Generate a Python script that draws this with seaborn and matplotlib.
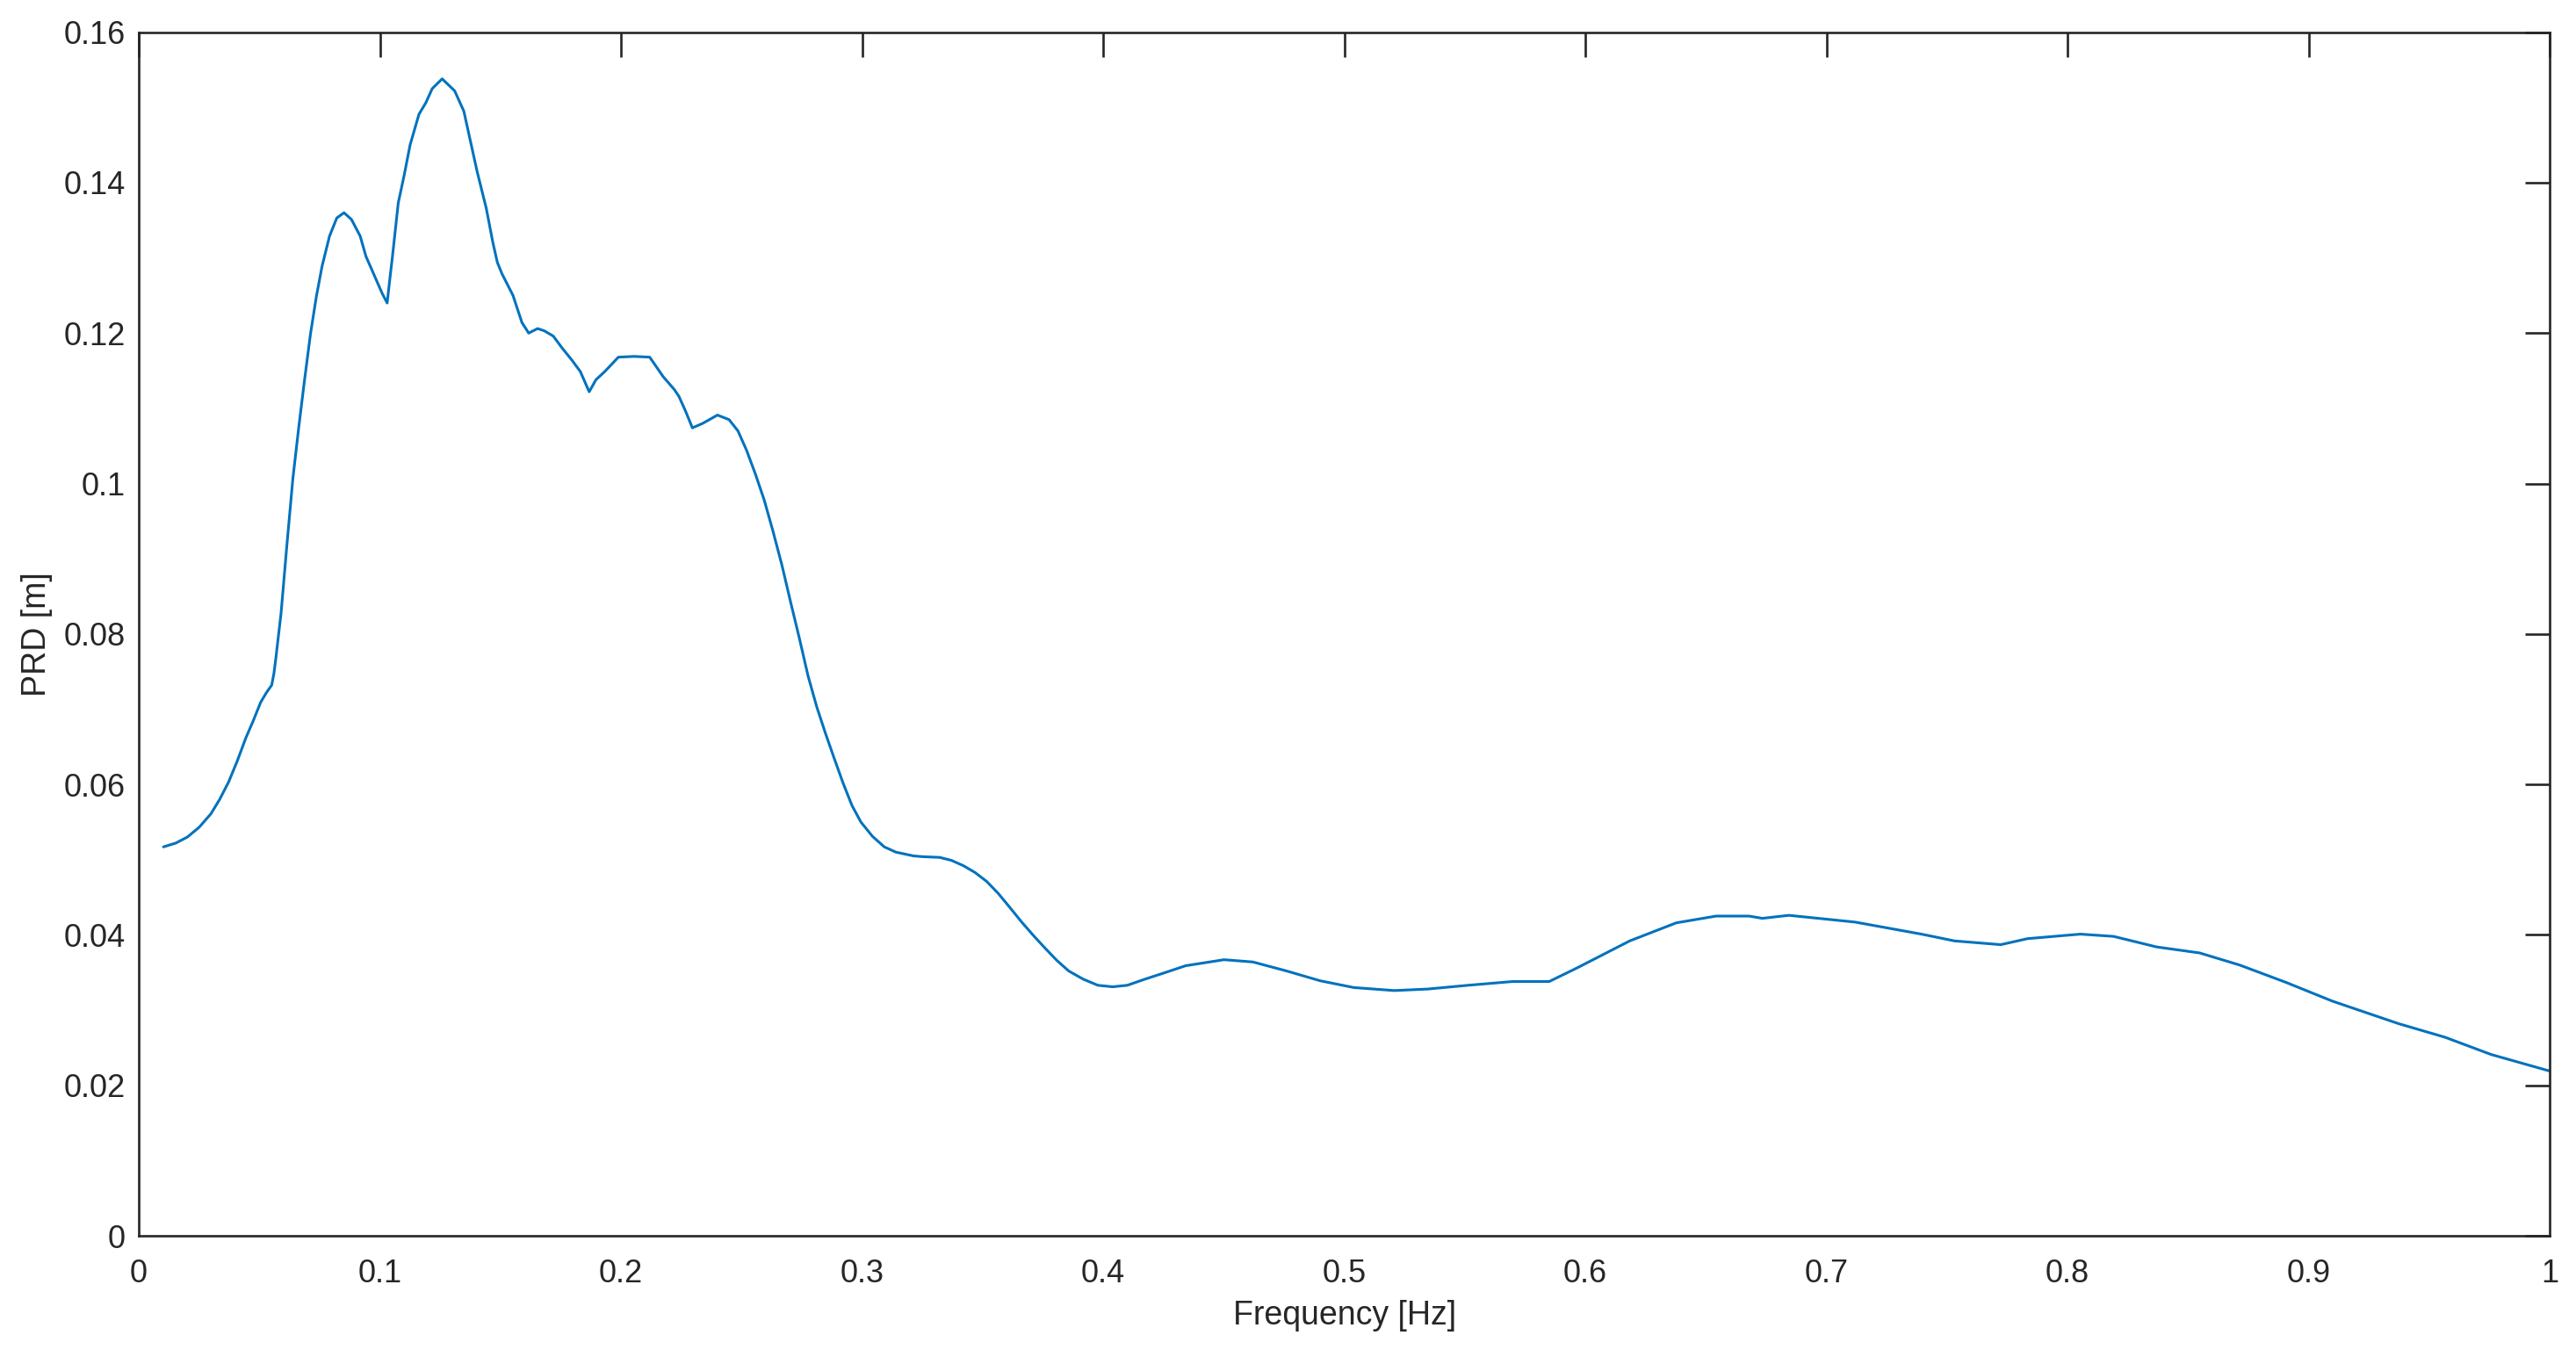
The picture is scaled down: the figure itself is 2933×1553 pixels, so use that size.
import numpy as np
import matplotlib
matplotlib.use('Agg')
import matplotlib.pyplot as plt
import seaborn as sns

# 频率 [Hz]
freq = [0.0102, 0.0153, 0.0201, 0.0250, 0.0299, 0.0335, 0.0372, 0.0408, 0.0444, 0.0475,
        0.0505, 0.0529, 0.0551, 0.0560, 0.0568, 0.0590, 0.0614,
        0.0639, 0.0663, 0.0687, 0.0712, 0.0736, 0.0760, 0.0791, 0.0821, 0.0851, 0.0882,
        0.0918, 0.0942, 0.0979, 0.1009, 0.1030, 0.1039, 0.1052, 0.1076, 0.1100, 0.1125,
        0.1162, 0.1190, 0.1217, 0.1258, 0.1310, 0.1348, 0.1403, 0.1441, 0.1468, 0.1487,
        0.1506, 0.1552, 0.1589, 0.1617, 0.1654, 0.1682, 0.1719, 0.1756, 0.1794, 0.1831,
        0.1868, 0.1896, 0.1933, 0.1989, 0.2054, 0.2119, 0.2175, 0.2221, 0.2240, 0.2268,
        0.2296, 0.2339, 0.2400, 0.2448, 0.2485, 0.2521, 0.2557, 0.2594, 0.2630, 0.2667,
        0.2703, 0.2740, 0.2776, 0.2812, 0.2849, 0.2885, 0.2922, 0.2958, 0.2995, 0.3043,
        0.3092, 0.3140, 0.3213, 0.3249, 0.3322, 0.3371, 0.3420, 0.3468, 0.3517, 0.3565,
        0.3614, 0.3662, 0.3711, 0.3760, 0.3808, 0.3857, 0.3918, 0.3978, 0.4039, 0.4100,
        0.4172, 0.4258, 0.4342, 0.4501, 0.4621, 0.4761, 0.4900,
        0.5039, 0.5207, 0.5346, 0.5513, 0.5698, 0.5850, 0.5965, 0.6184, 0.6377, 0.6542,
        0.6679, 0.6734, 0.6844, 0.7119, 0.7394, 0.7531, 0.7723, 0.7834, 0.8053, 0.8191,
        0.8369, 0.8548, 0.8713, 0.8905, 0.9098, 0.9235, 0.9373, 0.9565, 0.9757, 1.0000]

# PRD [m]
prd = [0.0517, 0.0522, 0.0530, 0.0543, 0.0561, 0.0580, 0.0603, 0.0631, 0.0662, 0.0685,
       0.0709, 0.0722, 0.0732, 0.0747, 0.0767, 0.0828, 0.0918,
       0.1007, 0.1074, 0.1137, 0.1199, 0.1248, 0.1289, 0.1329, 0.1353, 0.1360, 0.1351,
       0.1329, 0.1302, 0.1275, 0.1253, 0.1240, 0.1266, 0.1302, 0.1373, 0.1409, 0.1450,
       0.1491, 0.1506, 0.1525, 0.1538, 0.1522, 0.1495, 0.1415, 0.1366, 0.1321, 0.1294,
       0.1279, 0.1250, 0.1214, 0.1200, 0.1206, 0.1203, 0.1196, 0.1180, 0.1165, 0.1149,
       0.1122, 0.1138, 0.1149, 0.1168, 0.1169, 0.1168, 0.1142, 0.1125, 0.1116, 0.1096,
       0.1074, 0.1080, 0.1091, 0.1085, 0.1070, 0.1044, 0.1013, 0.0978, 0.0937, 0.0892,
       0.0843, 0.0794, 0.0744, 0.0703, 0.0667, 0.0634, 0.0601, 0.0572, 0.0550, 0.0531,
       0.0517, 0.0510, 0.0505, 0.0504, 0.0503, 0.0499, 0.0492, 0.0483, 0.0471, 0.0455,
       0.0436, 0.0417, 0.0399, 0.0382, 0.0366, 0.0352, 0.0341, 0.0333, 0.0331, 0.0333,
       0.0341, 0.0350, 0.0359, 0.0367, 0.0364, 0.0352, 0.0339,
       0.0330, 0.0326, 0.0328, 0.0333, 0.0338, 0.0338, 0.0356, 0.0392, 0.0416, 0.0425,
       0.0425, 0.0422, 0.0426, 0.0417, 0.0401, 0.0392, 0.0387, 0.0395, 0.0401, 0.0398,
       0.0384, 0.0376, 0.0360, 0.0337, 0.0312, 0.0297, 0.0282, 0.0264, 0.0241, 0.0219]

xticks = [0, 0.1, 0.2, 0.3, 0.4, 0.5, 0.6, 0.7, 0.8, 0.9, 1]
yticks = [0, 0.02, 0.04, 0.06, 0.08, 0.1, 0.12, 0.14, 0.16]

sns.set_style('white')
plt.rcParams['font.family'] = ['Liberation Sans', 'DejaVu Sans']
plt.rcParams['axes.linewidth'] = 1.9
plt.rcParams['xtick.direction'] = 'in'
plt.rcParams['ytick.direction'] = 'in'

fig = plt.figure(figsize=(29.33, 15.53), dpi=100)
ax = fig.add_axes([0.0539, 0.094, 0.9359, 0.8824])

sns.lineplot(x=freq, y=prd, color='#0072BD', linewidth=2.2, ax=ax)

ax.set_xlim(0, 1)
ax.set_ylim(0, 0.16)
ax.set_xticks(xticks)
ax.set_yticks(yticks)
ax.set_xticklabels(['%g' % t for t in xticks])
ax.set_yticklabels(['%g' % t for t in yticks])
ax.tick_params(axis='both', which='both', length=20, width=1.9, colors='#262626',
               labelsize=26, top=True, right=True)
ax.tick_params(axis='x', pad=19)
ax.tick_params(axis='y', pad=11)
for s in ax.spines.values():
    s.set_color('#262626')

ax.set_xlabel('Frequency [Hz]', fontsize=27, color='#262626', labelpad=8)
ax.set_ylabel('PRD [m]', fontsize=27, color='#262626', labelpad=9)

fig.savefig('out.png', dpi=100)
